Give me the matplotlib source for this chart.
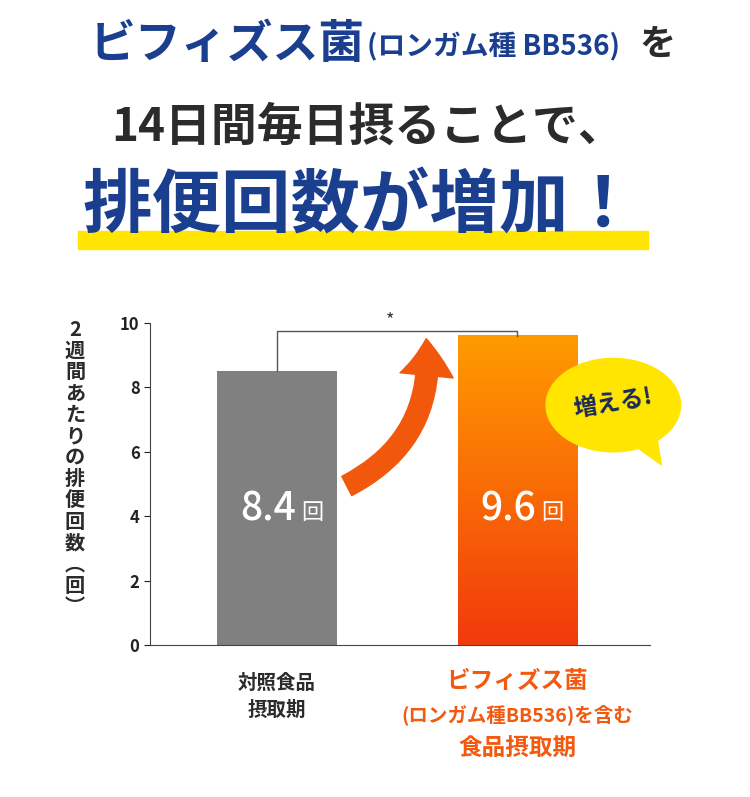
import matplotlib
matplotlib.use("Agg")
import matplotlib.pyplot as plt
import numpy as np
from matplotlib.patches import FancyArrowPatch, Ellipse, Polygon, Rectangle

plt.rcParams['font.family'] = ['Noto Sans CJK JP', 'DejaVu Sans']

categories = ["対照食品\n摂取期", "ビフィズス菌\n(ロンガム種BB536)を含む\n食品摂取期"]
values = [8.5, 9.6]
value_labels = ["8.4", "9.6"]
yticks = [0, 2, 4, 6, 8, 10]

BLUE = "#1b3f8f"
DARK = "#2b2b2b"

fig = plt.figure(figsize=(7.5, 7.97), dpi=100)

# title block
fig.text(0.487, 0.944, "ビフィズス菌", color=BLUE, fontsize=33, fontweight="bold", ha="right", va="center")
fig.text(0.489, 0.941, "(ロンガム種 BB536)", color=BLUE, fontsize=20, fontweight="bold", ha="left", va="center")
fig.text(0.853, 0.944, "を", color=DARK, fontsize=26, fontweight="bold", ha="left", va="center")
fig.text(0.49, 0.84, "14日間毎日摂ることで、", color=DARK, fontsize=33, fontweight="bold", ha="center", va="center")
fig.patches.append(Rectangle((0.104, 0.688), 0.76, 0.022, transform=fig.transFigure, color="#ffe500", zorder=0))
fig.text(0.48, 0.74, "排便回数が増加！", color=BLUE, fontsize=50, fontweight="bold", ha="center", va="center", zorder=2)

ax = fig.add_axes([0.2, 0.1907, 0.667, 0.404])
x = np.arange(len(values))
w = 0.496
ax.bar(x[0], values[0], width=w, color="#808080")
# gradient bar
grad = np.linspace(0, 1, 256).reshape(-1, 1)
cmap = matplotlib.colors.LinearSegmentedColormap.from_list("o", ["#f23a0c", "#ff9b00"])
ax.imshow(grad, extent=[x[1] - w / 2, x[1] + w / 2, 0, values[1]], origin="lower",
          cmap=cmap, aspect="auto", zorder=2)
ax.set_xlim(-0.529, 1.554)
ax.set_ylim(0, 10)
ax.set_yticks(yticks)
ax.set_xticks([])
for s in ["top", "right"]:
    ax.spines[s].set_visible(False)
ax.spines["left"].set_color("#444")
ax.spines["bottom"].set_color("#444")
ax.tick_params(axis="y", labelsize=12, colors="#222", length=4)
for lab in ax.get_yticklabels():
    lab.set_fontweight("bold")

for xi, v, lab in zip(x, values, value_labels):
    ax.text(xi + 0.08, 4.2, lab, color="white", fontsize=28, fontweight="medium", ha="right", va="center")
    ax.text(xi + 0.1, 4.1, "回", color="white", fontsize=16, ha="left", va="center")

# significance bracket
ax.plot([x[0], x[0], x[1], x[1]], [values[0], 9.75, 9.75, values[1]], color="#555", lw=1, clip_on=False)
ax.text(0.47, 9.8, "*", ha="center", va="bottom", fontsize=13, color="#333")

# curved arrow
arr = FancyArrowPatch((0.28, 4.9), (0.62, 9.6), connectionstyle="arc3,rad=0.35",
                      arrowstyle="simple,head_width=3.2,head_length=2.2,tail_width=1.3",
                      mutation_scale=12, color="#f2580c", zorder=3)
ax.add_patch(arr)

# speech bubble
ax.add_patch(Polygon([[1.45, 6.4], [1.6, 5.6], [1.58, 6.5]], closed=True, color="#ffe500", zorder=4, clip_on=False))
ax.add_patch(Ellipse((1.4, 7.45), 0.56, 2.9, color="#ffe500", zorder=4, clip_on=False))
ax.text(1.4, 7.5, "増える!", fontsize=17, fontweight="bold", color="#1b2a5a", rotation=10,
        ha="center", va="center", zorder=5)

# category labels
ax.text(x[0], -0.9, categories[0], ha="center", va="top", fontsize=14, fontweight="bold",
        color=DARK, linespacing=1.5)
parts = categories[1].split("\n")
ax.text(x[1], -0.75, parts[0], ha="center", va="top", fontsize=17, fontweight="bold", color="#f25a10")
ax.text(x[1], -1.85, parts[1], ha="center", va="top", fontsize=14, fontweight="bold", color="#f25a10")
ax.text(x[1], -2.85, parts[2], ha="center", va="top", fontsize=17, fontweight="bold", color="#f25a10")

# vertical y label
ylab = "2週間あたりの排便回数(回)".replace("(", "︵").replace(")", "︶")
fig.text(0.1, 0.6, "\n".join(ylab), ha="center", va="top", fontsize=14.5,
         fontweight="bold", color=DARK, linespacing=1.02)

fig.savefig("out.png", dpi=100)
